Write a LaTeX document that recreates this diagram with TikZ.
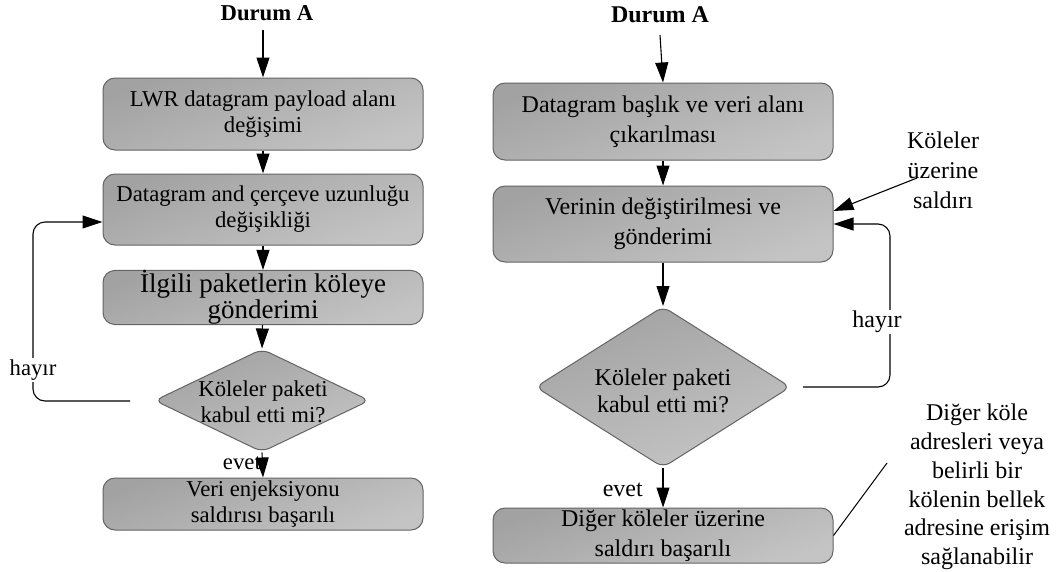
\documentclass[tikz,border=0pt]{standalone}
\usepackage{fontspec}
\setmainfont{Liberation Serif}
\usetikzlibrary{arrows.meta,shapes.geometric}

\definecolor{boxdark}{RGB}{162,162,162}
\definecolor{boxlight}{RGB}{196,196,196}
\definecolor{edgegray}{RGB}{100,100,100}

\begin{document}
\begin{tikzpicture}[x=1pt,y=-1pt,
  shadefill/.style={draw=edgegray, line width=1pt, top color=boxdark, bottom color=boxlight, shading angle=20},
  procbox/.style={shadefill, rectangle, rounded corners=12pt, inner sep=0pt, align=center},
  decision/.style={shadefill, diamond, rounded corners=8pt, inner sep=0pt},
  flow/.style={-{Triangle[length=20pt,width=13pt]}, line width=1.1pt, black},
  loopline/.style={flow, rounded corners=12pt},
  lfont/.style={font=\fontsize{22.7pt}{26pt}\selectfont},
  rfont/.style={font=\fontsize{24pt}{30pt}\selectfont},
  tag/.style={fill=white, inner sep=1.5pt},
  plain/.style={inner sep=0pt, align=center},
]
\useasboundingbox[fill=white] (0,0) rectangle (1056,571);

% ---------------- left flow ----------------
\node[plain, font=\fontsize{22.7pt}{26pt}\selectfont\bfseries] (durL) at (267,13) {Durum A};
\node[procbox, lfont, minimum width=320pt, minimum height=72pt] (L1) at (263,114)
  {LWR datagram payload alanı\\değişimi};
\node[procbox, lfont, minimum width=320pt, minimum height=71pt] (L2) at (263,209.5)
  {Datagram and çerçeve uzunluğu\\değişikliği};
\node[procbox, font=\fontsize{27pt}{26pt}\selectfont, minimum width=320pt, minimum height=51pt] (L3) at (263,297.5)
  {İlgili paketlerin köleye\\gönderimi};
\node[decision, minimum width=215pt, minimum height=103pt] (dL) at (262,400.5) {};
\node[plain, lfont] (dLtxt) at (263,402) {Köleler paketi\\kabul etti mi?};
\node[procbox, lfont, minimum width=320pt, minimum height=52pt] (L4) at (263,504)
  {Veri enjeksiyonu\\saldırısı başarılı};

\coordinate (startL) at (263,30);
\draw[flow] (startL) -- (L1.north);
\draw[flow] (L1) -- (L2);
\draw[flow] (L2) -- (L3);
\draw[flow] (L3) -- (dL.north);
\draw[flow] (dL.south) -- (L4.north);
\node[plain, lfont, anchor=east] (yesL) at (261,463) {evet};

\coordinate (noLa) at (130,401);
\coordinate (noLb) at (33,222);
\draw[loopline] (noLa) -| (noLb) -- (noLb -| L2.west);
\node[tag, lfont] (noLtag) at (33,370) {hayır};

% ---------------- right flow ----------------
\node[plain, font=\fontsize{24pt}{30pt}\selectfont\bfseries] (durR) at (660,15) {Durum A};
\node[procbox, rfont, minimum width=340pt, minimum height=77pt] (R1) at (663,121.5)
  {Datagram başlık ve veri alanı\\çıkarılması};
\node[procbox, rfont, minimum width=340pt, minimum height=76pt] (R2) at (663,224)
  {Verinin değiştirilmesi ve\\gönderimi};
\node[decision, minimum width=255pt, minimum height=161pt] (dR) at (663,387) {};
\node[plain, rfont, font=\fontsize{24pt}{27pt}\selectfont] (dRtxt) at (663,391) {Köleler paketi\\kabul etti mi?};
\node[procbox, rfont, minimum width=340pt, minimum height=55pt] (R3) at (663,535.5)
  {Diğer köleler üzerine\\saldırı başarılı};

\coordinate (startR) at (660,35);
\draw[flow] (startR) -- (R1.north);
\draw[flow] (R1) -- (R2);
\draw[flow] (R2.south) -- (dR.north);
\draw[flow] (dR.south) -- (R3.north);
\node[plain, rfont, anchor=east] (yesR) at (643,490) {evet};

\coordinate (noRa) at (803,387);
\coordinate (noRb) at (890,224);
\draw[loopline] (noRa) -| (noRb) -- (noRb -| R2.east);
\node[tag, rfont] (noRtag) at (877,322) {hayır};

% side notes
\node[plain, rfont] (atkTxt) at (943,170) {Köleler\\üzerine\\saldırı};
\coordinate (atkR) at (917,178);
\draw[flow] (atkR) -- ([yshift=13pt]R2.east);

\node[plain, font=\fontsize{24pt}{28.8pt}\selectfont] (noteTxt) at (977,487)
  {Diğer köle\\adresleri veya\\belirli bir\\kölenin bellek\\adresine erişim\\sağlanabilir};
\coordinate (noteEnd) at (887,463);
\draw[line width=1pt] (R3.east) -- (noteEnd);
\end{tikzpicture}
\end{document}
